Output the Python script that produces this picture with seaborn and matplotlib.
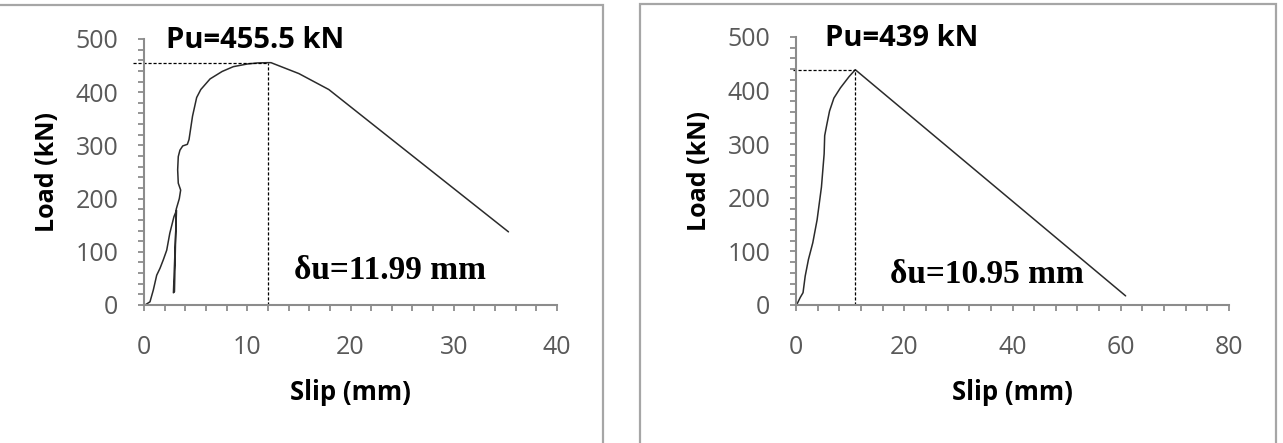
import numpy as np
import pandas as pd
import matplotlib
matplotlib.use("Agg")
import matplotlib.pyplot as plt
import seaborn as sns
from matplotlib.ticker import MultipleLocator, FixedLocator
from matplotlib.patches import Rectangle

# ---------------- data ----------------
left_slip = [0.0, 0.1, 0.58, 0.9, 1.23, 1.55, 1.87, 2.2, 2.5, 2.9, 3.15, 2.85, 2.95, 3.12,
             3.42, 3.55, 3.32, 3.26, 3.32, 3.48, 3.75, 4.2, 4.36, 4.7, 5.1, 5.5, 6.4, 7.57,
             8.65, 10.0, 11.0, 11.99, 12.3, 15.0, 17.9, 24.4, 35.3]
left_load = [0, 0, 6, 28, 56, 69, 85, 103, 135, 166, 178, 23, 25, 180,
             200, 216, 229, 254, 279, 291, 299, 302, 311, 355, 390, 405, 425, 439,
             448, 453, 455, 455.5, 455.5, 435, 405, 305, 137.5]

right_slip = [0.0, 0.2, 0.78, 1.3, 1.7, 2.3, 3.1, 3.9, 4.7, 5.2, 5.3, 5.7, 6.2, 7.0, 8.2,
              9.8, 10.95, 60.9]
right_load = [0, 2, 14, 23, 54, 85, 116, 159, 220, 282, 316, 337, 362, 386, 405,
              426, 439, 17]

left_pu, left_du = 455.5, 11.99
right_pu, right_du = 439, 10.95
left_pu_label = "Pu=455.5 kN"
right_pu_label = "Pu=439 kN"
left_du_label = "δu=11.99 mm"
right_du_label = "δu=10.95 mm"
left_xticks = [0, 10, 20, 30, 40]
right_xticks = [0, 20, 40, 60, 80]
y_ticks = [0, 100, 200, 300, 400, 500]
x_label = "Slip (mm)"
y_label = "Load (kN)"

# ---------------- style ----------------
sns.set_style("white")
plt.rcParams['font.family'] = ['Open Sans', 'DejaVu Sans']

W, H = 1283, 443
fig = plt.figure(figsize=(W / 100, H / 100), dpi=100)

def fx(px):
    return px / W

def fy(py):
    return 1 - py / H

AX_COL = '#8c8c8c'
TXT_COL = '#595959'
LINE_COL = '#2b2b2b'

panels = [
    dict(box=(-3, 5, 603, 460), ax=(144, 39, 557, 305), slip=left_slip, load=left_load,
         pu=left_pu, du=left_du, xt=left_xticks, xminor=2, pul=left_pu_label, dul=left_du_label,
         hx0=133, pu_pos=(166, 48), du_pos=(294, 279), ylab=(47, 172), xlab=(350, 392)),
    dict(box=(640, 4, 1276, 460), ax=(796, 37, 1229, 305), slip=right_slip, load=right_load,
         pu=right_pu, du=right_du, xt=right_xticks, xminor=4, pul=right_pu_label, dul=right_du_label,
         hx0=793, pu_pos=(825, 46), du_pos=(890, 283), ylab=(699, 171), xlab=(1012, 392)),
]

for p in panels:
    x0, y0, x1, y1 = p['box']
    fig.patches.append(Rectangle((fx(x0), fy(y1)), fx(x1) - fx(x0), fy(y0) - fy(y1),
                                 transform=fig.transFigure, fill=False,
                                 edgecolor='#a6a6a6', linewidth=1.6, zorder=0))
    a0, t0, a1, b0 = p['ax']
    ax = fig.add_axes([fx(a0), fy(b0), fx(a1) - fx(a0), fy(t0) - fy(b0)])
    ax.set_facecolor('none')
    df = pd.DataFrame({'slip': p['slip'], 'load': p['load']})
    sns.lineplot(data=df, x='slip', y='load', sort=False, estimator=None, ax=ax,
                 color=LINE_COL, linewidth=1.1)
    xmax = p['xt'][-1]
    ax.set_xlim(0, xmax)
    ax.set_ylim(0, 500)
    ax.xaxis.set_major_locator(FixedLocator(p['xt']))
    ax.yaxis.set_major_locator(FixedLocator(y_ticks))
    ax.xaxis.set_minor_locator(MultipleLocator(p['xminor']))
    ax.yaxis.set_minor_locator(MultipleLocator(20))
    for s in ['top', 'right']:
        ax.spines[s].set_visible(False)
    for s in ['left', 'bottom']:
        ax.spines[s].set_color(AX_COL)
        ax.spines[s].set_linewidth(1.5)
    ax.tick_params(axis='both', which='both', direction='out', length=4.5, width=1.3,
                   color=AX_COL, labelcolor=TXT_COL, labelsize=18,
                   bottom=True, left=True)
    ax.tick_params(axis='x', which='both', pad=17)
    ax.tick_params(axis='y', which='both', pad=14)
    ax.set_xlabel('')
    ax.set_ylabel('')

    # dashed guide lines
    px_per_unit = (a1 - a0) / xmax
    hx_start = (p['hx0'] - a0) / px_per_unit
    ax.plot([hx_start, p['du']], [p['pu'], p['pu']], color='black', linewidth=0.9,
            linestyle=(0, (2.5, 1.5)), clip_on=False)
    ax.plot([p['du'], p['du']], [0, p['pu']], color='black', linewidth=0.9,
            linestyle=(0, (2.5, 1.5)), clip_on=False)

    # annotations
    fig.text(fx(p['pu_pos'][0]), fy(p['pu_pos'][1]), p['pul'], fontsize=21,
             fontweight='bold', color='black', ha='left', va='baseline')
    fig.text(fx(p['du_pos'][0]), fy(p['du_pos'][1]), p['dul'], fontsize=24,
             fontweight='bold', color='black', ha='left', va='baseline',
             family=['Liberation Serif', 'DejaVu Serif'])
    fig.text(fx(p['ylab'][0]), fy(p['ylab'][1]), y_label, fontsize=18, fontweight='bold',
             rotation=90, ha='center', va='center', color='black')
    fig.text(fx(p['xlab'][0]), fy(p['xlab'][1]), x_label, fontsize=18.5, fontweight='bold',
             ha='center', va='center', color='black')

fig.savefig('out.png', dpi=100, facecolor='white')
